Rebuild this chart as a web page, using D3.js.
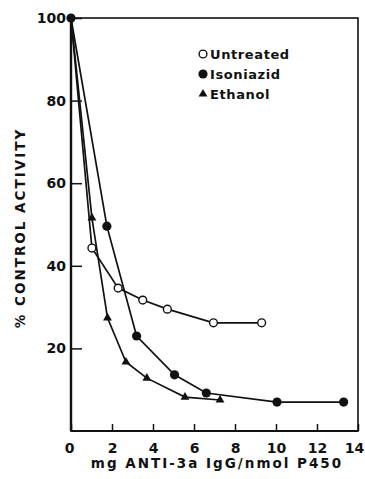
<!DOCTYPE html>
<html>
<head>
<meta charset="utf-8">
<script src="https://cdn.jsdelivr.net/npm/d3@7"></script>
<style>
  body { margin: 0; background: #fff; }
  svg { display: block; }
  text { font-family: "DejaVu Sans", sans-serif; font-weight: bold; fill: #111; }
</style>
</head>
<body>
<svg id="chart" width="365" height="479"></svg>
<script>
// values
const untreatedX = [0, 1.02, 2.3, 3.5, 4.7, 6.95, 9.3];
const untreatedY = [100, 44.3, 34.6, 31.7, 29.5, 26.2, 26.2];
const isoniazidX = [0, 1.75, 3.2, 5.05, 6.6, 10.05, 13.3];
const isoniazidY = [100, 49.6, 23, 13.6, 9.2, 7.0, 7.0];
const ethanolX = [0, 1.02, 1.78, 2.68, 3.7, 5.56, 7.27];
const ethanolY = [100, 51.6, 27.4, 16.7, 12.8, 8.2, 7.5];
const xTicks = [0, 2, 4, 6, 8, 10, 12, 14];
const yTicks = [20, 40, 60, 80, 100];
const seriesNames = ["Untreated", "Isoniazid", "Ethanol"];

const svg = d3.select("#chart");
const x = d3.scaleLinear().domain([0, 14]).range([71, 358]);
const y = d3.scaleLinear().domain([0, 100]).range([431, 18]);

//axes, ticks pointing inward
svg.append("g")
  .attr("transform", `translate(0, ${y(0)})`)
  .call(d3.axisBottom(x).tickValues(xTicks).tickSizeInner(-7).tickSizeOuter(0).tickPadding(12))
  .call((g) => g.select(".domain").remove())
  .call((g) => g.selectAll("line").attr("stroke", "#111").attr("stroke-width", 1.5))
  .call((g) => g.selectAll("text").style("font-size", "14px").attr("fill", "#111")
    .attr("dx", (d) => (d === 0 ? -2 : d === 14 ? -4 : 0)));

svg.append("g")
  .attr("transform", `translate(${x(0)}, 0)`)
  .call(d3.axisLeft(y).tickValues(yTicks).tickSizeInner(-11).tickSizeOuter(0).tickPadding(5))
  .call((g) => g.select(".domain").remove())
  .call((g) => g.selectAll("line").attr("stroke", "#111").attr("stroke-width", 1.5))
  .call((g) => g.selectAll("text").style("font-size", "14px").attr("fill", "#111"));

//frame
svg.append("rect")
  .attr("x", x(0)).attr("y", y(100))
  .attr("width", x(14) - x(0)).attr("height", y(0) - y(100))
  .attr("fill", "none").attr("stroke", "#111").attr("stroke-width", 1.6);
svg.append("line")
  .attr("x1", x(0)).attr("x2", x(0)).attr("y1", y(100)).attr("y2", y(0))
  .attr("stroke", "#111").attr("stroke-width", 2.4);
svg.append("line")
  .attr("x1", x(0)).attr("x2", x(14)).attr("y1", y(0)).attr("y2", y(0))
  .attr("stroke", "#111").attr("stroke-width", 2.2);

//series
const series = [
  { name: seriesNames[0], xs: untreatedX, ys: untreatedY, marker: "open" },
  { name: seriesNames[1], xs: isoniazidX, ys: isoniazidY, marker: "filled" },
  { name: seriesNames[2], xs: ethanolX, ys: ethanolY, marker: "triangle" },
];
const line = d3.line().x((d) => x(d[0])).y((d) => y(d[1]));
const triangle = d3.symbol().type(d3.symbolTriangle).size(34);

const drawMarker = (g, kind, cx, cy) => {
  if (kind === "triangle") {
    g.append("path").attr("d", triangle).attr("transform", `translate(${cx}, ${cy})`).attr("fill", "#111");
  } else if (kind === "filled") {
    g.append("circle").attr("cx", cx).attr("cy", cy).attr("r", 4.6).attr("fill", "#111");
  } else {
    g.append("circle").attr("cx", cx).attr("cy", cy).attr("r", 3.9)
      .attr("fill", "#fff").attr("stroke", "#111").attr("stroke-width", 1.4);
  }
};

series.forEach((s) => {
  const pts = s.xs.map((v, i) => [v, s.ys[i]]);
  svg.append("path").datum(pts).attr("d", line)
    .attr("fill", "none").attr("stroke", "#111").attr("stroke-width", 1.7);
});
series.forEach((s) => {
  const g = svg.append("g");
  s.xs.forEach((v, i) => {
    if (i === 0) return; // shared 100% point drawn below
    drawMarker(g, s.marker, x(v), y(s.ys[i]));
  });
});
svg.append("circle").attr("cx", x(0)).attr("cy", y(100)).attr("r", 4.6).attr("fill", "#111");

//legend
const legend = svg.append("g");
series.forEach((s, i) => {
  const ly = 54 + i * 20;
  drawMarker(legend, s.marker, 203, ly);
  legend.append("text").attr("x", 210).attr("y", ly).attr("dy", "0.36em")
    .style("font-size", "13px").style("letter-spacing", "0.6px").text(s.name);
});

//axis titles
svg.append("text")
  .attr("x", 217).attr("y", 468)
  .attr("text-anchor", "middle").style("font-size", "13.5px").style("letter-spacing", "2px")
  .text("mg ANTI-3a IgG/nmol P450");
svg.append("text")
  .attr("transform", "translate(25, 228) rotate(-90)")
  .attr("text-anchor", "middle").style("font-size", "13.5px").style("letter-spacing", "2px")
  .text("% CONTROL ACTIVITY");
</script>
</body>
</html>
